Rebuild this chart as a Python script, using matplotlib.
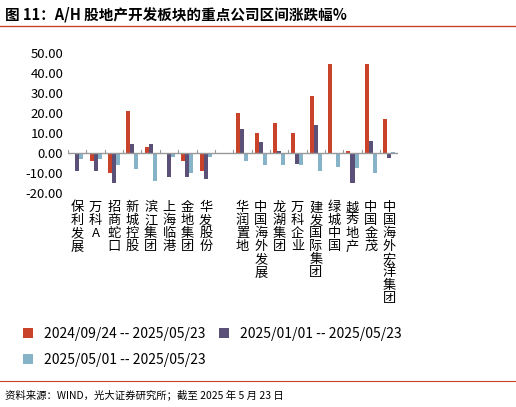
import matplotlib
matplotlib.use("Agg")
import matplotlib.pyplot as plt
import numpy as np

plt.rcParams['font.family'] = ['Noto Sans CJK SC', 'DejaVu Sans']

categories = ["保利发展","万科A","招商蛇口","新城控股","滨江集团","上海临港","金地集团","华发股份","",
              "华润置地","中国海外发展","龙湖集团","万科企业","建发国际集团","绿城中国","越秀地产","中国金茂","中国海外宏洋集团"]
s1 = [-0.5,-4,-10,21,3,-0.5,-4,-9,0,20,10,15,10,28.5,44.5,1,44.5,17]
s2 = [-9,-9,-15,4.5,4.5,-12,-12,-13,0,12,5.5,1,-5.5,14,-0.5,-15,6,-2.5]
s3 = [-3,-3,-6,-8,-14,-2,-10,-2,0,-4,-6,-6,-6,-9,-7,-7.5,-10,0.3]
names = ["2024/09/24 -- 2025/05/23","2025/01/01 -- 2025/05/23","2025/05/01 -- 2025/05/23"]
colors = ["#C9432A","#5A5078","#86B3C8"]

fig = plt.figure(figsize=(5.16,4.07), dpi=100)
fig.text(0.01,0.965,"图 11：A/H 股地产开发板块的重点公司区间涨跌幅%",fontsize=10.5,fontweight='bold',va='center')
fig.add_artist(plt.Line2D([0,1],[0.935,0.935],color='#C9432A',lw=1))
fig.add_artist(plt.Line2D([0,1],[0.063,0.063],color='#C9432A',lw=0.8))
fig.text(0.01,0.03,"资料来源：WIND，光大证券研究所；截至 2025 年 5 月 23 日",fontsize=7.5,va='center')

ax = fig.add_axes([0.132,0.526,0.64,0.344])
x = np.arange(len(categories))
w = 0.22
for i,(s,c,n) in enumerate(zip([s1,s2,s3],colors,names)):
    ax.bar(x+(i-1)*w, s, w, color=c, label=n)
ax.set_ylim(-20,50)
ax.set_yticks(range(-20,51,10))
ax.set_yticklabels([f"{v:.2f}" for v in range(-20,51,10)], fontsize=9.5)
ax.set_xlim(-0.5,len(categories)-0.5)
ax.set_xticks(x)
ax.set_xticklabels(['\n'.join(c) for c in categories], fontsize=9.5, va='top', linespacing=1.0)
ax.tick_params(axis='y', length=0)
for s in ax.spines.values(): s.set_visible(False)
ax.axhline(0,color='#999999',lw=1)
for b in np.arange(-0.5,len(categories),1):
    ax.plot([b,b],[0,1.5],color='#999999',lw=0.8)
ax.tick_params(axis='x', length=0, pad=6)
h,l = ax.get_legend_handles_labels()
fig.legend(h[:2],l[:2],loc='center left',bbox_to_anchor=(0.02,0.18),ncol=2,frameon=False,fontsize=10,handlelength=0.7,columnspacing=1.0)
fig.legend(h[2:],l[2:],loc='center left',bbox_to_anchor=(0.02,0.115),frameon=False,fontsize=10,handlelength=0.7)
fig.savefig("out.png",dpi=100)
